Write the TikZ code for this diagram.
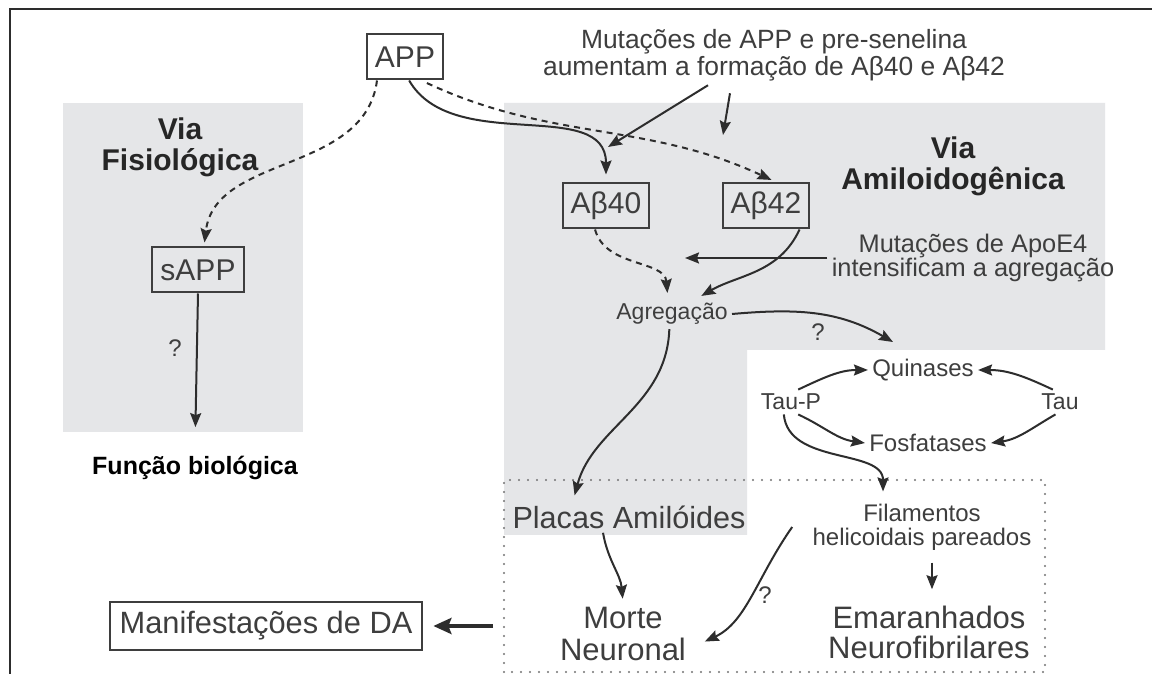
\documentclass[tikz,border=0pt]{standalone}
\usepackage{fontspec}
\setmainfont{Liberation Sans}
\usetikzlibrary{positioning}
\usetikzlibrary{arrows.meta}
\usetikzlibrary{calc}

\definecolor{panelGray}{RGB}{229,230,232}
\definecolor{inkGray}{RGB}{62,62,62}
\definecolor{lineGray}{RGB}{45,45,45}

\begin{document}
\begin{tikzpicture}
    [x=0.5pt, y=0.5pt,
     boxLabel/.style={draw=inkGray, line width=1pt, text=inkGray, inner xsep=4pt, minimum height=22.5pt, font=\fontsize{15}{16}\selectfont},
     bigLabel/.style={text=inkGray, align=center, inner sep=2pt, font=\fontsize{15.5}{16}\selectfont},
     smallLabel/.style={text=inkGray, align=center, inner sep=2pt, font=\fontsize{11.5}{13}\selectfont},
     noteLabel/.style={smallLabel, font=\fontsize{13}{13.5}\selectfont},
     titleLabel/.style={text=black!85, align=center, font=\fontsize{15}{15.5}\selectfont\bfseries},
     pathSolid/.style={draw=lineGray, line width=1pt, -{Stealth[length=7pt, width=5.5pt, inset=1pt]}},
     pathDashed/.style={pathSolid, dash pattern=on 3pt off 2.5pt},
     bigArrow/.style={draw=lineGray, line width=2pt, -{Stealth[length=9pt, width=8pt, inset=1.5pt]}},
     dotFrame/.style={draw=black!55, line width=1.2pt, line cap=round, dash pattern=on 0pt off 4.5pt},
    ]

    % page and frame
    \fill[white] (0,0) rectangle (1152,674);
    \useasboundingbox (0,0) rectangle (1152,674);
    \draw[lineGray, line width=1.3pt] (10,0) -- (10,665) -- (1152,665);

    % grey panels
    \fill[panelGray] (63,242) rectangle (303,571);
    \fill[panelGray] (504,571) -- (1105,571) -- (1105,324) -- (747,324) -- (747,139) -- (504,139) -- cycle;
    \draw[dotFrame] (504,2) rectangle (1045,194);

    % nodes
    \node[boxLabel] (app) at (405,617) {APP};
    \node[noteLabel, font=\fontsize{13.2}{13.5}\selectfont] (mutapp) at (774,619) {Mutações de APP e pre-senelina\\aumentam a formação de Aβ40 e Aβ42};
    \node[titleLabel] (viafis) at (180,527) {Via\\Fisiológica};
    \node[boxLabel] (sapp) at (198,404) {sAPP};
    \node[smallLabel, font=\fontsize{12}{13}\selectfont] (qFunc) at (175,326) {?};
    \node[titleLabel, text=black, font=\fontsize{12.5}{14}\selectfont\bfseries] (funcao) at (195,206) {Função biológica};

    \node[boxLabel] (ab40) at (606,468) {Aβ40};
    \node[boxLabel] (ab42) at (766,468) {Aβ42};
    \node[titleLabel] (viaamy) at (953,508) {Via\\Amiloidogênica};
    \node[noteLabel, font=\fontsize{12.7}{12}\selectfont] (mutapoe) at (973,416) {Mutações de ApoE4\\intensificam a agregação};
    \node[smallLabel] (agreg) at (672,360) {Agregação};
    \node[smallLabel, font=\fontsize{12}{13}\selectfont] (qTau) at (818,342) {?};

    \node[smallLabel, font=\fontsize{12}{13}\selectfont] (quin) at (923,304) {Quinases};
    \node[smallLabel] (taup) at (791,272) {Tau-P};
    \node[smallLabel] (tau) at (1060,272) {Tau};
    \node[smallLabel, font=\fontsize{12}{13}\selectfont] (fosf) at (928,231) {Fosfatases};

    \node[bigLabel, font=\fontsize{15.3}{16}\selectfont] (placas) at (629,157) {Placas Amilóides};
    \node[smallLabel, font=\fontsize{12}{12}\selectfont] (filam) at (922,147) {Filamentos\\helicoidais pareados};
    \node[bigLabel] (morte) at (623,40) {Morte\\Neuronal};
    \node[bigLabel, font=\fontsize{15.5}{15}\selectfont] (emar) at (929,42) {Emaranhados\\Neurofibrilares};
    \node[smallLabel, font=\fontsize{12}{13}\selectfont] (qMorte) at (765,79) {?};
    \node[boxLabel, minimum height=24pt, inner xsep=5pt, font=\fontsize{15.4}{16}\selectfont] (manif) at (266,48) {Manifestações de DA};

    % free ends
    \coordinate (abtip) at (608,527);
    \coordinate (mutfree) at (723,539);
    \coordinate (apoefree) at (685,416);
    \coordinate (qtip) at (893,332);
    \coordinate (boxleft) at (493,48);

    % connectors
    \draw[pathSolid, shorten >=4pt] (app.-80) to[out=-60, in=90] (ab40.north);
    \draw[pathDashed, shorten <=3pt, shorten >=3pt] (app.-55) to[out=-25, in=155] (ab42.65);
    \draw[pathDashed, shorten >=2pt] (app.-140) .. controls (365,500) and (215,520) .. ([xshift=3pt]sapp.north);
    \draw[pathSolid] ($(mutapp.south)+(-66,0)$) -- (abtip);
    \draw[pathSolid] ($(mutapp.south)+(-44,-8)$) -- (mutfree);
    \draw[pathSolid] (mutapoe.west) -- (apoefree);
    \draw[pathSolid, shorten >=3pt] (ab42.-35) to[out=-115, in=30] (agreg.32);
    \draw[pathDashed, shorten >=3pt] (ab40.-115) to[out=-75, in=95] (agreg.105);
    \draw[pathSolid] (agreg.east) to[out=5, in=150] (qtip);
    \draw[pathSolid, shorten >=3pt] (agreg.-100) to[out=-92, in=75] ([xshift=-28pt]placas.north);

    \draw[pathSolid] (taup.60) to[out=25, in=180] (quin.west);
    \draw[pathSolid] (tau.120) to[out=155, in=0] (quin.east);
    \draw[pathSolid] (taup.-60) to[out=-25, in=172] (fosf.west);
    \draw[pathSolid] (tau.-110) to[out=-150, in=8] (fosf.east);
    \draw[pathSolid, shorten >=4pt] (taup.-120) to[out=-85, in=90] ([xshift=-19.5pt]filam.north);

    \draw[pathSolid, shorten >=2pt] ([xshift=-13pt]placas.south) to[out=-80, in=95] (morte.north);
    \draw[pathSolid, shorten >=8pt] ([xshift=-8pt]filam.west) to[out=-125, in=25] (morte.-12);
    \draw[pathSolid, shorten <=4pt, shorten >=6pt] ([xshift=5pt]filam.south) -- ([xshift=1.5pt]emar.north);
    \draw[bigArrow, shorten >=5pt] (boxleft) -- (manif.east);
    \draw[pathSolid, shorten >=11pt] (sapp.south) -- (funcao.north);

\end{tikzpicture}
\end{document}
